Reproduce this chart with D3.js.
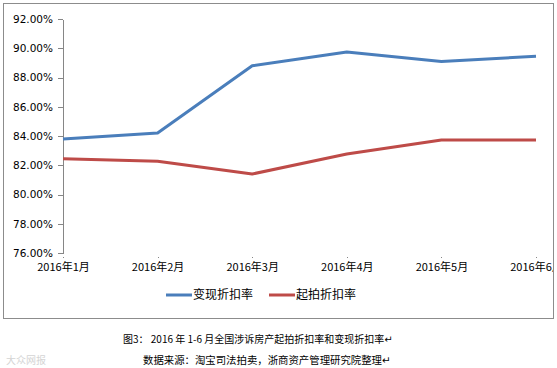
<!DOCTYPE html>
<html>
<head>
<meta charset="utf-8">
<script src="https://cdn.jsdelivr.net/npm/d3@7"></script>
<style>
  body { margin: 0; background: #fff; }
  svg { display: block; }
  .axis path, .axis line { stroke: #868686; shape-rendering: crispEdges; }
  .axis text { fill: #000; }
</style>
</head>
<body>
<svg width="557" height="368"></svg>
<script>
// data
var months = ["2016年1月", "2016年2月", "2016年3月", "2016年4月", "2016年5月", "2016年6月"];
var realized = [83.8, 84.2, 88.8, 89.75, 89.1, 89.45];   // 变现折扣率
var starting = [82.45, 82.27, 81.4, 82.77, 83.73, 83.73]; // 起拍折扣率
var yTicks = [76, 78, 80, 82, 84, 86, 88, 90, 92];
var seriesNames = ["变现折扣率", "起拍折扣率"];
var seriesColors = ["#4a7ebb", "#be4b48"];

var svg = d3.select("svg");
var cjk = "'Noto Sans CJK SC', 'DejaVu Sans', sans-serif";

// outer frame
svg.append("rect")
  .attr("x", 3.5).attr("y", 3.5)
  .attr("width", 550).attr("height", 315)
  .attr("fill", "#fff")
  .attr("stroke", "#8c8c8c");

var margin = {left: 63, top: 19, right: 536, bottom: 253};

var x = d3.scalePoint().domain(months).range([margin.left, margin.right]);
var y = d3.scaleLinear().domain([76, 92]).range([margin.bottom, margin.top]);

// y axis
var gy = svg.append("g")
  .attr("class", "axis")
  .attr("transform", "translate(" + margin.left + ",0)")
  .call(d3.axisLeft(y).tickValues(yTicks).tickSize(5).tickSizeOuter(0)
    .tickFormat(function(d) { return d.toFixed(2) + "%"; }));
gy.selectAll("text")
  .attr("x", -10)
  .style("font-family", "'DejaVu Sans', sans-serif")
  .style("font-size", "10.5px");

// x axis
var gx = svg.append("g")
  .attr("class", "axis")
  .attr("transform", "translate(0," + margin.bottom + ")")
  .call(d3.axisBottom(x).tickSize(5).tickSizeOuter(0));
gx.select(".domain").attr("d", "M" + margin.left + ",0.5H" + margin.right);
gx.selectAll("text")
  .attr("y", 10)
  .style("font-family", cjk)
  .style("font-size", "11px");

// last label is cut by the frame in the original
svg.append("clipPath").attr("id", "frame")
  .append("rect").attr("x", 4).attr("y", 4).attr("width", 549).attr("height", 314);
gx.attr("clip-path", "url(#frame)");

// lines
var line = d3.line()
  .x(function(d, i) { return x(months[i]); })
  .y(function(d) { return y(d); });

[realized, starting].forEach(function(s, k) {
  svg.append("path")
    .datum(s)
    .attr("fill", "none")
    .attr("stroke", seriesColors[k])
    .attr("stroke-width", 3)
    .attr("stroke-linejoin", "round")
    .attr("d", line);
});

// legend
var legendX = [166, 269];
seriesNames.forEach(function(n, k) {
  svg.append("line")
    .attr("x1", legendX[k]).attr("x2", legendX[k] + 26)
    .attr("y1", 295).attr("y2", 295)
    .attr("stroke", seriesColors[k])
    .attr("stroke-width", 3);
  svg.append("text")
    .attr("x", legendX[k] + 27)
    .attr("y", 295)
    .attr("dy", "0.36em")
    .style("font-family", cjk)
    .style("font-size", "12px")
    .text(n);
});

// caption
svg.append("text")
  .attr("x", 123).attr("y", 339)
  .attr("dy", "0.36em")
  .style("font-family", cjk)
  .style("font-size", "10px")
  .text("图3： 2016 年 1-6 月全国涉诉房产起拍折扣率和变现折扣率↵");
svg.append("text")
  .attr("x", 143).attr("y", 360)
  .attr("dy", "0.36em")
  .style("font-family", cjk)
  .style("font-size", "10.4px")
  .text("数据来源：淘宝司法拍卖，浙商资产管理研究院整理↵");

// faint watermark
svg.append("text")
  .attr("x", 6).attr("y", 360)
  .attr("dy", "0.36em")
  .style("font-family", cjk)
  .style("font-size", "10px")
  .attr("fill", "#d4d4d4")
  .text("大众网报");
</script>
</body>
</html>
